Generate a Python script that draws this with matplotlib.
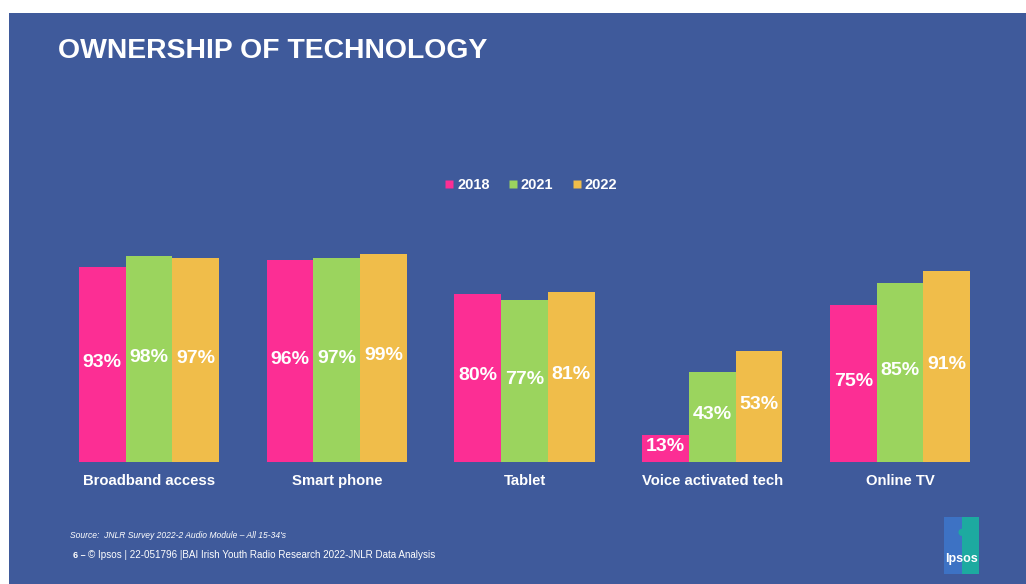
import numpy as np
import matplotlib.pyplot as plt
from matplotlib.patches import Rectangle
from matplotlib.lines import Line2D

categories = ['Broadband access', 'Smart phone', 'Tablet', 'Voice activated tech', 'Online TV']
years = ['2018', '2021', '2022']
v2018 = [93, 96, 80, 13, 75]
v2021 = [98, 97, 77, 43, 85]
v2022 = [97, 99, 81, 53, 91]

BG = '#3F5A9B'
colors = ['#FC2E94', '#9BD45E', '#F0BD4A']

plt.rcParams['font.family'] = ['Liberation Sans', 'DejaVu Sans']

W, H = 1026, 584
fig = plt.figure(figsize=(W / 100, H / 100), dpi=100, facecolor='white')

# slide background, white strip on top and left
fig.patches.append(Rectangle((9 / W, 0), 1 - 9 / W, 1 - 13 / H, transform=fig.transFigure,
                             facecolor=BG, edgecolor='none', zorder=-10))

# axes: baseline at y=462px, 100% at y=252px
left_px, right_px = 55, 995
ax = fig.add_axes([left_px / W, (H - 462) / H, (right_px - left_px) / W, 210 / H])
ax.set_facecolor('none')
step = 187.75
ax.set_xlim(-(149 - left_px) / step, 4 + (right_px - 900) / step)
ax.set_ylim(0, 100)

x = np.arange(len(categories))
bw = 0.249
for i, (vals, c) in enumerate(zip([v2018, v2021, v2022], colors)):
    pos = x + (i - 1) * bw
    ax.bar(pos, vals, width=bw, color=c, edgecolor='none')
    for p, v in zip(pos, vals):
        ax.text(p, v / 2 + 1, f'{v}%', ha='center', va='center', color='white',
                fontsize=14, fontweight='bold')

for s in ax.spines.values():
    s.set_visible(False)
ax.set_yticks([])
ax.set_xticks(x)
ax.set_xticklabels(categories, color='white', fontsize=10.7, fontweight='bold',
                   va='baseline')
ax.tick_params(axis='x', length=0, pad=16.5)

handles = [Line2D([], [], marker='s', linestyle='none', markersize=5.5,
                  markerfacecolor=c, markeredgecolor='none') for c in colors]
leg = fig.legend(handles, years, loc='center', bbox_to_anchor=(531 / W, 1 - 185 / H),
                 ncol=3, frameon=False, handlelength=0.6, handletextpad=0.25,
                 columnspacing=1.3, prop={'weight': 'bold', 'size': 10.5})
for t in leg.get_texts():
    t.set_color('white')

fig.text(58 / W, 1 - 51 / H, 'OWNERSHIP OF TECHNOLOGY', color='white', fontsize=20.4,
         fontweight='bold', va='center', ha='left')

fig.text(70 / W, 1 - 535 / H, "Source:  JNLR Survey 2022-2 Audio Module \u2013 All 15-34's",
         color='white', fontsize=6.15, style='italic', va='center')
fig.text(73 / W, 1 - 555 / H, '6 \u2013', color='white', fontsize=6.5, fontweight='bold', va='center')
fig.text(88 / W, 1 - 555 / H,
         '\u00a9 Ipsos | 22-051796 |BAI Irish Youth Radio Research 2022-JNLR Data Analysis',
         color='white', fontsize=7.15, va='center')

# Ipsos logo block
lx, ly, lw, lh = 944, 517, 35, 57
fig.patches.append(Rectangle((lx / W, 1 - (ly + lh) / H), (lw / 2) / W, lh / H,
                             transform=fig.transFigure, facecolor='#3D72C4', edgecolor='none'))
fig.patches.append(Rectangle(((lx + lw / 2) / W, 1 - (ly + lh) / H), (lw / 2) / W, lh / H,
                             transform=fig.transFigure, facecolor='#1DAAA0', edgecolor='none'))
fig.text((lx + lw / 2) / W, 1 - 533 / H, '\u25CF', color='#1DAAA0', fontsize=12,
         ha='center', va='center')
fig.text((lx + lw / 2) / W, 1 - 559 / H, 'Ipsos', color='white', fontsize=9,
         fontweight='bold', ha='center', va='center')

fig.savefig('out.png', dpi=100, facecolor=fig.get_facecolor())
